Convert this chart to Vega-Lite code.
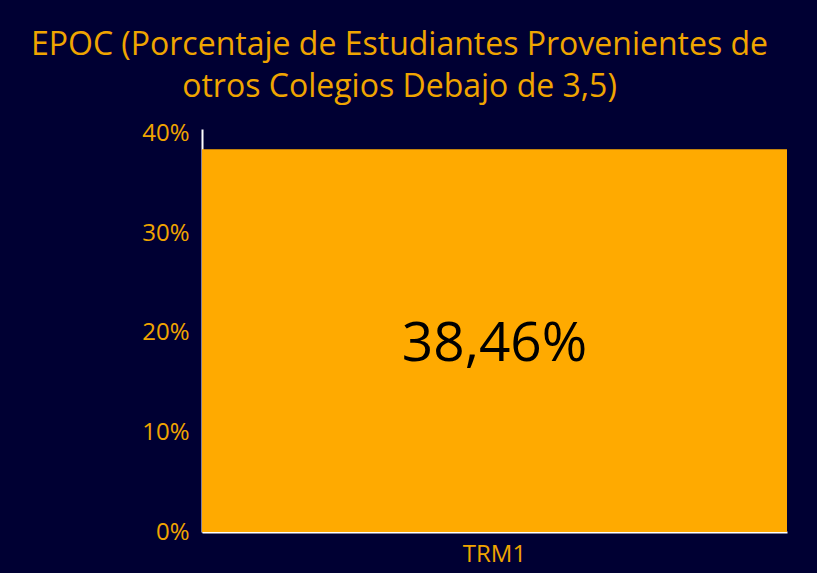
{
  "$schema": "https://vega.github.io/schema/vega-lite/v6.json",
  "autosize": {"type": "none"},
  "width": 585,
  "height": 403,
  "padding": {"left": 202, "top": 129, "right": 30, "bottom": 41},
  "background": "#000033",
  "view": {"stroke": null},
  "title": {
    "text": ["EPOC (Porcentaje de Estudiantes Provenientes de", "otros Colegios Debajo de 3,5)"],
    "anchor": "middle",
    "frame": "group",
    "dx": -95,
    "offset": 18,
    "font": "Open Sans",
    "fontSize": 32,
    "fontWeight": "normal",
    "lineHeight": 42,
    "color": "#F0A500"
  },
  "data": {"values": [{"trm": "TRM1", "value": 0.3846, "label": "38,46%"}]},
  "encoding": {
    "x": {
      "field": "trm",
      "type": "nominal",
      "scale": {"paddingInner": 0, "paddingOuter": 0},
      "axis": {
        "title": null,
        "labelAngle": 0,
        "labelColor": "#F0A500",
        "labelFont": "Open Sans",
        "labelFontSize": 24,
        "ticks": false,
        "labelPadding": 10,
        "domainColor": "#FFFFFF",
        "domainWidth": 2
      }
    }
  },
  "layer": [
    {
      "mark": {"type": "bar", "color": "#FFAA00"},
      "encoding": {
        "y": {
          "field": "value",
          "type": "quantitative",
          "scale": {"domain": [0, 0.405], "nice": false},
          "axis": {
            "title": null,
            "format": ".0%",
            "values": [0, 0.1, 0.2, 0.3, 0.4],
            "grid": false,
            "ticks": false,
            "labelColor": "#F0A500",
            "labelFont": "Open Sans",
            "labelFontSize": 24,
            "labelPadding": 13,
            "domainColor": "#FFFFFF",
            "domainWidth": 2
          }
        }
      }
    },
    {
      "mark": {"type": "text", "font": "Open Sans", "fontSize": 55, "color": "#000000", "baseline": "middle", "align": "center"},
      "encoding": {
        "y": {"datum": 0.189, "type": "quantitative"},
        "text": {"field": "label"}
      }
    }
  ]
}
